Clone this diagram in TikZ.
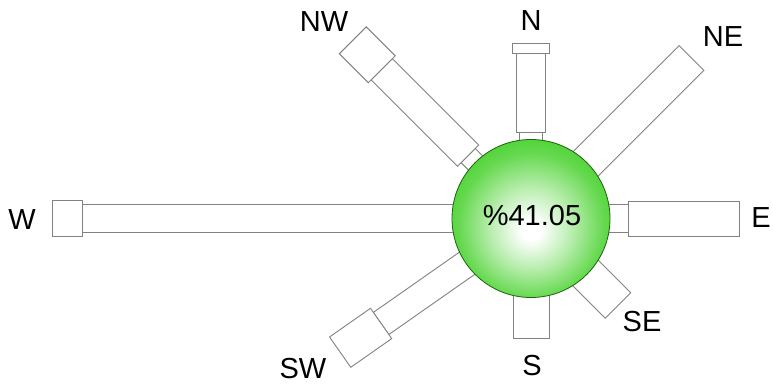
\documentclass[tikz,border=0pt]{standalone}
\usepackage{fontspec}
\setmainfont{Liberation Sans}
\definecolor{ballgreen}{RGB}{50,204,20}
\definecolor{ballline}{RGB}{28,100,12}
\definecolor{boxgray}{RGB}{130,130,130}
\pgfdeclareradialshading{ballshade}{\pgfpoint{0bp}{-4bp}}{color(0bp)=(white); color(3bp)=(white); color(13bp)=(ballgreen!35!white); color(23bp)=(ballgreen!75!white); color(34bp)=(ballgreen); color(50bp)=(ballgreen!94!black)}
\tikzset{
  armbox/.style={draw=boxgray, fill=white, line width=0.9pt},
  lbl/.style={font=\fontsize{29}{32}\selectfont, inner sep=0pt, text=black},
}
\begin{document}
\begin{tikzpicture}[x=1pt, y=-1pt]
\useasboundingbox (0,0) rectangle (773,385);
\coordinate (c) at (531,218.5);
% N
\begin{scope}[shift={(c)}, rotate=90]
  \draw[armbox] (72,-11.5) rectangle (86,11.5);
  \draw[armbox] (86,-14.5) rectangle (165,14.5);
  \draw[armbox] (165,-18.5) rectangle (175,18.5);
\end{scope}
% NE
\begin{scope}[shift={(c)}, rotate=45]
  \draw[armbox] (70,-17.5) rectangle (227,17.5);
\end{scope}
% E
\begin{scope}[shift={(c)}, rotate=0]
  \draw[armbox] (70,-14) rectangle (97,14);
  \draw[armbox] (97,-17.5) rectangle (208,17.5);
\end{scope}
% SE
\begin{scope}[shift={(c)}, rotate=-45]
  \draw[armbox] (74,-18) rectangle (123,18);
\end{scope}
% S
\begin{scope}[shift={(c)}, rotate=-90]
  \draw[armbox] (74,-18) rectangle (120,18);
\end{scope}
% SW
\begin{scope}[shift={(c)}, rotate=215]
  \draw[armbox] (70,-13.5) rectangle (183,13.5);
  \draw[armbox] (183,-18.5) rectangle (233,18.5);
\end{scope}
% W
\begin{scope}[shift={(c)}, rotate=180]
  \draw[armbox] (70,-14) rectangle (449,14);
  \draw[armbox] (449,-18) rectangle (479,18);
\end{scope}
% NW
\begin{scope}[shift={(c)}, rotate=135]
  \draw[armbox] (70,-10) rectangle (89,10);
  \draw[armbox] (89,-15) rectangle (211,15);
  \draw[armbox] (211,-19) rectangle (252,19);
\end{scope}
% ball
\node (ball) at (c) [circle, minimum size=158pt, inner sep=0pt, shading=ballshade, draw=ballline, line width=0.8pt] {};
\node (pct) at (532,216) [lbl] {\%41.05};
% labels
\node (lN)  at (531,21)  [lbl] {N};
\node (lNE) at (723,37)  [lbl] {NE};
\node (lE)  at (761,218) [lbl] {E};
\node (lSE) at (642,322) [lbl] {SE};
\node (lS)  at (532,366) [lbl] {S};
\node (lSW) at (303,369) [lbl] {SW};
\node (lW)  at (22,220)  [lbl] {W};
\node (lNW) at (324,22)  [lbl] {NW};
\end{tikzpicture}
\end{document}
